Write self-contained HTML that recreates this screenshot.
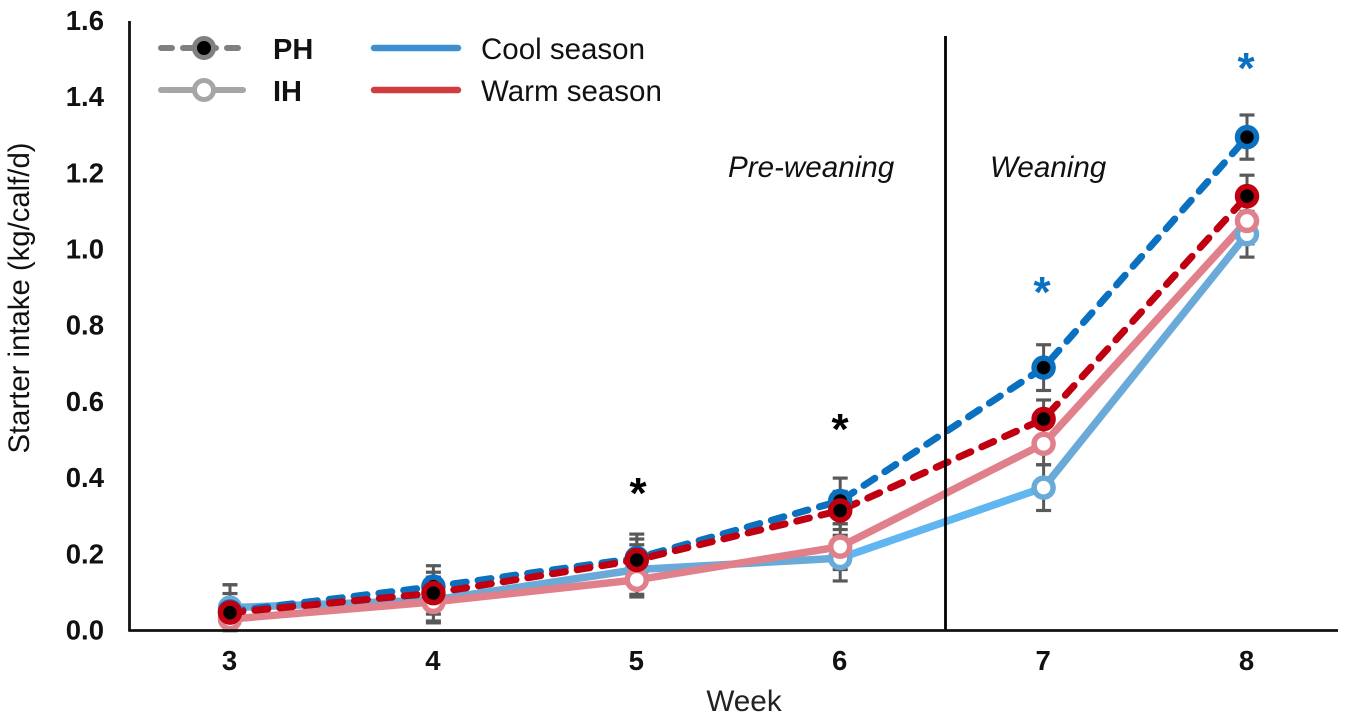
<!DOCTYPE html>
<html lang="en">
<head>
<meta charset="utf-8">
<title>Starter intake by week</title>
<style>
html,body{margin:0;padding:0;background:#fff;}
body{width:1355px;height:716px;overflow:hidden;}
svg{display:block;font-family:"Liberation Sans",Arial,sans-serif;}
</style>
</head>
<body>
<svg id="chart" xmlns="http://www.w3.org/2000/svg" width="1355" height="716" viewBox="0 0 1355 716">
  <g id="grid-layer"></g>
  <g id="line-layer"></g>
  <g id="marker-layer"></g>
  <line x1="945.5" y1="36" x2="945.5" y2="631" stroke="#000" stroke-width="2.8"/>
  <line x1="129.5" y1="21" x2="129.5" y2="631.5" stroke="#111" stroke-width="2.8"/>
  <line x1="128.5" y1="630.5" x2="1338" y2="630.5" stroke="#111" stroke-width="2.8"/>
  <g id="tick-layer"></g>
  <text transform="translate(29,298) rotate(-90)" text-anchor="middle" font-size="29.3" fill="#111">Starter intake (kg/calf/d)</text>
  <text x="744" y="711" text-anchor="middle" font-size="29.7" fill="#222">Week</text>
  <text x="728" y="177" font-size="29.6" font-style="italic" fill="#111">Pre-weaning</text>
  <text x="990" y="177" font-size="29.6" font-style="italic" fill="#111">Weaning</text>
  <text x="638" y="508" text-anchor="middle" font-size="44" font-weight="bold" fill="#000">*</text>
  <text x="840" y="444" text-anchor="middle" font-size="44" font-weight="bold" fill="#000">*</text>
  <text x="1042" y="307" text-anchor="middle" font-size="44" font-weight="bold" fill="#0a70c0">*</text>
  <text x="1246" y="83" text-anchor="middle" font-size="44" font-weight="bold" fill="#0a70c0">*</text>
  <g>
    <g>
      <line x1="161" y1="48" x2="239" y2="48" stroke="#808080" stroke-width="6" stroke-dasharray="11 11" stroke-linecap="round"/>
      <circle cx="204" cy="48" r="9.5" fill="#000" stroke="#808080" stroke-width="5"/>
      <text x="273" y="59" font-size="29" font-weight="bold" fill="#111">PH</text>
    </g>
    <g>
      <line x1="161" y1="90" x2="243" y2="90" stroke="#a6a6a6" stroke-width="6" stroke-linecap="round"/>
      <circle cx="204" cy="90" r="9.5" fill="#fff" stroke="#a6a6a6" stroke-width="5"/>
      <text x="273" y="101" font-size="29" font-weight="bold" fill="#111">IH</text>
    </g>
    <g>
      <line x1="374" y1="48" x2="458" y2="48" stroke="#3d8fd1" stroke-width="6.5" stroke-linecap="round"/>
      <text x="481" y="59" font-size="29.5" fill="#111">Cool season</text>
    </g>
    <g>
      <line x1="374" y1="90" x2="458" y2="90" stroke="#d13c3f" stroke-width="6.5" stroke-linecap="round"/>
      <text x="481" y="101" font-size="29.5" fill="#111">Warm season</text>
    </g>
  </g>
</svg>
<script>
var weeks = [3, 4, 5, 6, 7, 8];
var yTicks = ['0.0', '0.2', '0.4', '0.6', '0.8', '1.0', '1.2', '1.4', '1.6'];
var ihCool = [0.06, 0.08, 0.16, 0.19, 0.375, 1.04];
var ihWarm = [0.03, 0.075, 0.133, 0.22, 0.49, 1.075];
var phCool = [0.05, 0.115, 0.19, 0.34, 0.69, 1.295];
var phWarm = [0.047, 0.098, 0.185, 0.315, 0.555, 1.14];
var ihCoolErr = [0.06, 0.06, 0.065, 0.06, 0.06, 0.06];
var ihWarmErr = [0.03, 0.05, 0.045, 0.06, 0.055, 0.06];
var phCoolErr = [0.07, 0.055, 0.063, 0.06, 0.06, 0.058];
var phWarmErr = [0.05, 0.055, 0.055, 0.05, 0.05, 0.055];

var NS = 'http://www.w3.org/2000/svg';
function xScale(i) { return 230 + i * 203.4; }
function yScale(v) { return 630.5 - v * 381; }
function make(tag, parent, attrs) {
  var el = document.createElementNS(NS, tag);
  for (var k in attrs) { el.setAttribute(k, attrs[k]); }
  parent.appendChild(el);
  return el;
}
var errLayer = document.getElementById('grid-layer');
var lineLayer = document.getElementById('line-layer');
var markerLayer = document.getElementById('marker-layer');
var tickLayer = document.getElementById('tick-layer');

yTicks.forEach(function (t) {
  var el = make('text', tickLayer, { x: 104, y: yScale(parseFloat(t)) + 9, 'text-anchor': 'end', 'font-size': 27.5, 'font-weight': 'bold', fill: '#111' });
  
  
  el.textContent = t;
});
weeks.forEach(function (w, i) {
  var el = make('text', tickLayer, { x: xScale(i) - 0.5, y: 670, 'text-anchor': 'middle', 'font-size': 27.5, 'font-weight': 'bold', fill: '#111' });
  
  
  el.textContent = w;
});

function drawErrors(values, errs) {
  values.forEach(function (v, i) {
    var x = xScale(i), t = yScale(v + errs[i]), b = yScale(Math.max(0, v - errs[i]));
    var stem = make('line', errLayer, { x1: x, x2: x, y1: t, y2: b, stroke: '#595959', 'stroke-width': 3 });
    
    
    [t, b].forEach(function (y) {
      var cap = make('line', errLayer, { x1: x - 7.5, x2: x + 7.5, y1: y, y2: y, stroke: '#595959', 'stroke-width': 3.2 });
      
      
    });
  });
}
function drawLine(values, color, dash, width) {
  var pts = values.map(function (v, i) { return xScale(i) + ',' + yScale(v); }).join(' ');
  var attrs = { points: pts, fill: 'none', stroke: color, 'stroke-width': width, 'stroke-linejoin': 'round' };
  if (dash) { attrs['stroke-dasharray'] = dash; attrs['stroke-linecap'] = 'round'; }
  var el = make('polyline', lineLayer, attrs);
  
  
}
function drawMarkers(values, color, fill) {
  values.forEach(function (v, i) {
    var el = make('circle', markerLayer, { cx: xScale(i), cy: yScale(v), r: 9.5, fill: fill, stroke: color, 'stroke-width': 5.5 });
    
    
  });
}

drawErrors(ihCool, ihCoolErr);
drawErrors(ihWarm, ihWarmErr);
drawErrors(phCool, phCoolErr);
drawErrors(phWarm, phWarmErr);

drawLine(ihCool, '#6aaad8', null, 7.5);
// The week 6 to 7 stretch of the cool-season IH line is a lighter blue in the reference.
var lighter = make('line', lineLayer, { x1: xScale(3), y1: yScale(ihCool[3]), x2: xScale(4), y2: yScale(ihCool[4]), stroke: '#5fb6f0', 'stroke-width': 7.5 });


drawLine(ihWarm, '#e0808a', null, 7.5);
drawLine(phCool, '#0a70c0', '13 12', 7);
drawLine(phWarm, '#c00010', '13 12', 7);

drawMarkers(ihCool, '#6aaad8', '#fff');
drawMarkers(ihWarm, '#e0808a', '#fff');
drawMarkers(phCool, '#0a70c0', '#000');
drawMarkers(phWarm, '#c00010', '#000');
</script>
</body>
</html>
